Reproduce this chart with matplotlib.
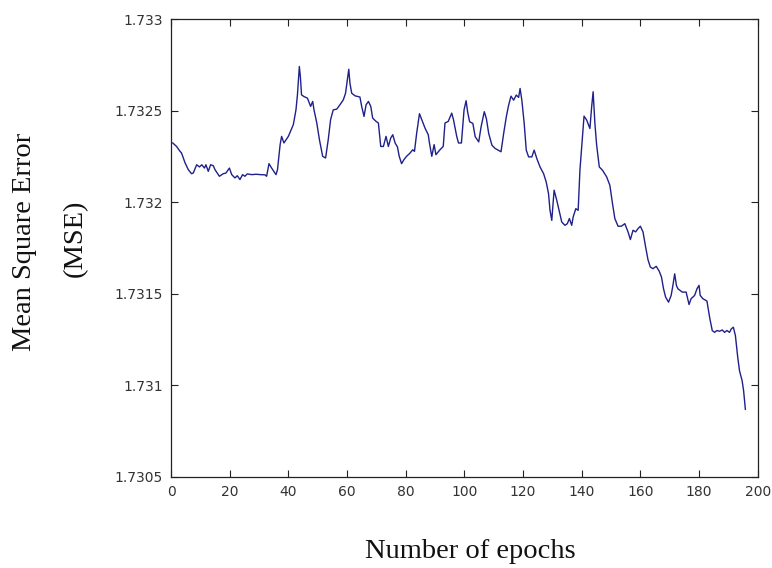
import matplotlib
matplotlib.use("Agg")
import matplotlib.pyplot as plt

epochs = [0.6, 1.9, 3.1, 3.6, 4.8, 5.9, 7.0, 7.6, 8.75, 9.7, 10.5, 11.4, 11.9, 12.7, 13.5,
          14.4, 15.0, 16.5, 17.8, 18.75, 19.9, 20.7, 21.8, 22.6, 23.5, 24.4, 25.2, 26.0,
          27.5, 29.0, 30.5, 32.0, 32.6, 33.4, 34.3, 35.8, 36.3, 37.2, 37.7, 38.5, 40.0,
          41.7, 42.6, 43.1, 43.75, 44.1, 44.5, 45.3, 46.5, 47.6, 48.3, 48.75, 49.7, 50.6,
          51.7, 52.7, 53.6, 54.4, 55.3, 56.5, 57.6, 58.75, 59.5, 60.1, 60.6, 61.0, 61.6,
          62.7, 64.4, 65.0, 65.8, 66.5, 67.3, 68.1, 68.75, 69.9, 70.7, 71.5, 72.4, 73.3,
          74.1, 74.9, 75.6, 76.4, 77.2, 77.8, 78.6, 79.4, 80.3, 81.5, 82.4, 83.0, 83.75,
          84.7, 85.5, 86.6, 87.7, 88.1, 88.9, 89.7, 90.3, 91.7, 92.8, 93.4, 94.5, 95.7,
          96.3, 97.4, 98.0, 99.0, 99.9, 100.6, 101.1, 101.8, 102.9, 103.7, 104.9, 105.7,
          106.8, 107.5, 108.3, 109.4, 110.5, 112.5, 113.4, 114.3, 115.1, 115.9, 116.8,
          117.7, 118.5, 119.0, 119.6, 120.4, 121.1, 121.9, 123.0, 123.8, 124.7, 125.8,
          127.0, 127.9, 128.7, 129.2, 129.8, 130.6, 131.5, 132.4, 133.2, 134.3, 135.1,
          135.8, 136.6, 137.1, 138.0, 138.8, 139.4, 140.1, 140.8, 141.7, 142.8, 143.4,
          143.9, 144.5, 145.1, 146.0, 147.1, 148.5, 149.6, 150.5, 151.3, 152.4, 153.5,
          154.7, 155.8, 156.6, 157.5, 158.4, 159.2, 160.0, 160.9, 161.8, 162.6, 163.4,
          164.3, 165.4, 166.4, 167.2, 167.9, 168.6, 169.6, 170.5, 171.1, 171.7, 172.3,
          172.8, 174.3, 175.6, 176.6, 177.3, 178.5, 179.3, 180.0, 180.4, 181.3, 182.7,
          183.6, 184.5, 185.3, 186.1, 187.0, 187.9, 188.7, 189.5, 190.4, 191.0, 191.7,
          192.4, 193.2, 193.8, 194.7, 195.2, 195.8]

mse = [1.732324, 1.732305, 1.732278, 1.732269, 1.732215, 1.732178, 1.732156, 1.732160,
       1.732205, 1.732193, 1.732205, 1.732187, 1.732205, 1.732169, 1.732205, 1.732200,
       1.732178, 1.732142, 1.732156, 1.732160, 1.732187, 1.732151, 1.732133, 1.732145,
       1.732124, 1.732151, 1.732142, 1.732155, 1.732151, 1.732153, 1.732151, 1.732150,
       1.732142, 1.732211, 1.732187, 1.732151, 1.732178, 1.732315, 1.732360, 1.732324,
       1.732360, 1.732424, 1.732505, 1.732587, 1.732742, 1.732687, 1.732587, 1.732578,
       1.732569, 1.732524, 1.732551, 1.732505, 1.732433, 1.732342, 1.732251, 1.732242,
       1.732342, 1.732451, 1.732505, 1.732509, 1.732533, 1.732560, 1.732596, 1.732669,
       1.732727, 1.732651, 1.732596, 1.732582, 1.732575, 1.732524, 1.732469, 1.732533,
       1.732551, 1.732524, 1.732460, 1.732442, 1.732433, 1.732305, 1.732305, 1.732360,
       1.732305, 1.732351, 1.732369, 1.732324, 1.732302, 1.732251, 1.732211, 1.732233,
       1.732251, 1.732269, 1.732287, 1.732278, 1.732378, 1.732484, 1.732451, 1.732405,
       1.732369, 1.732324, 1.732251, 1.732315, 1.732260, 1.732287, 1.732305, 1.732433,
       1.732442, 1.732487, 1.732451, 1.732360, 1.732324, 1.732324, 1.732505, 1.732555,
       1.732495, 1.732440, 1.732431, 1.732358, 1.732330, 1.732412, 1.732495, 1.732458,
       1.732376, 1.732312, 1.732294, 1.732276, 1.732376, 1.732467, 1.732531, 1.732580,
       1.732558, 1.732586, 1.732573, 1.732622, 1.732558, 1.732431, 1.732285, 1.732248,
       1.732248, 1.732285, 1.732239, 1.732193, 1.732157, 1.732111, 1.732047, 1.731956,
       1.731901, 1.732066, 1.732011, 1.731947, 1.731892, 1.731874, 1.731883, 1.731911,
       1.731874, 1.731920, 1.731965, 1.731956, 1.732175, 1.732321, 1.732471, 1.732449,
       1.732403, 1.732522, 1.732604, 1.732431, 1.732312, 1.732193, 1.732175, 1.732139,
       1.732093, 1.731993, 1.731911, 1.731869, 1.731869, 1.731883, 1.731838, 1.731796,
       1.731847, 1.731838, 1.731856, 1.731869, 1.731838, 1.731755, 1.731686, 1.731646,
       1.731637, 1.731650, 1.731624, 1.731591, 1.731527, 1.731482, 1.731454, 1.731491,
       1.731546, 1.731609, 1.731545, 1.731527, 1.731509, 1.731509, 1.731441, 1.731473,
       1.731491, 1.731527, 1.731546, 1.731491, 1.731473, 1.731460, 1.731372, 1.731299,
       1.731289, 1.731299, 1.731295, 1.731302, 1.731289, 1.731299, 1.731289, 1.731308,
       1.731317, 1.731271, 1.731152, 1.731079, 1.731024, 1.730969, 1.730868]

xticks = [0, 20, 40, 60, 80, 100, 120, 140, 160, 180, 200]
yticks = [1.7305, 1.731, 1.7315, 1.732, 1.7325, 1.733]
ytick_labels = ["1.7305", "1.731", "1.7315", "1.732", "1.7325", "1.733"]

W, H = 772, 568
fig = plt.figure(figsize=(W / 100, H / 100), dpi=100)
ax = fig.add_axes([171 / W, 1 - 476.7 / H, (757.7 - 171) / W, (476.7 - 19.3) / H])

ax.plot(epochs, mse, color="#20208a", linewidth=1.0)

ax.set_xlim(0, 200)
ax.set_ylim(1.7305, 1.733)
ax.set_xticks(xticks)
ax.set_xticklabels([str(t) for t in xticks])
ax.set_yticks(yticks)
ax.set_yticklabels(ytick_labels)
ax.tick_params(direction="in", length=5, width=0.8, top=True, right=True,
               labelsize=10, colors="#222222")
ax.tick_params(axis="x", pad=6)
ax.tick_params(axis="y", pad=6)
for lab in ax.get_xticklabels() + ax.get_yticklabels():
    lab.set_color("#333333")
for s in ax.spines.values():
    s.set_linewidth(0.9)
    s.set_color("#222222")

serif = ["Liberation Serif", "DejaVu Serif"]
fig.text(25 / W, 1 - 242 / H, "Mean Square Error", rotation=90, ha="center", va="center",
         fontsize=20.5, family=serif, color="#111111")
fig.text(75 / W, 1 - 238 / H, "(MSE)", rotation=90, ha="center", va="center",
         fontsize=20.5, family=serif, color="#111111")
fig.text(470 / W, 1 - 552 / H, "Number of epochs", ha="center", va="center",
         fontsize=20.5, family=serif, color="#111111")

fig.savefig("out.png", dpi=100)
